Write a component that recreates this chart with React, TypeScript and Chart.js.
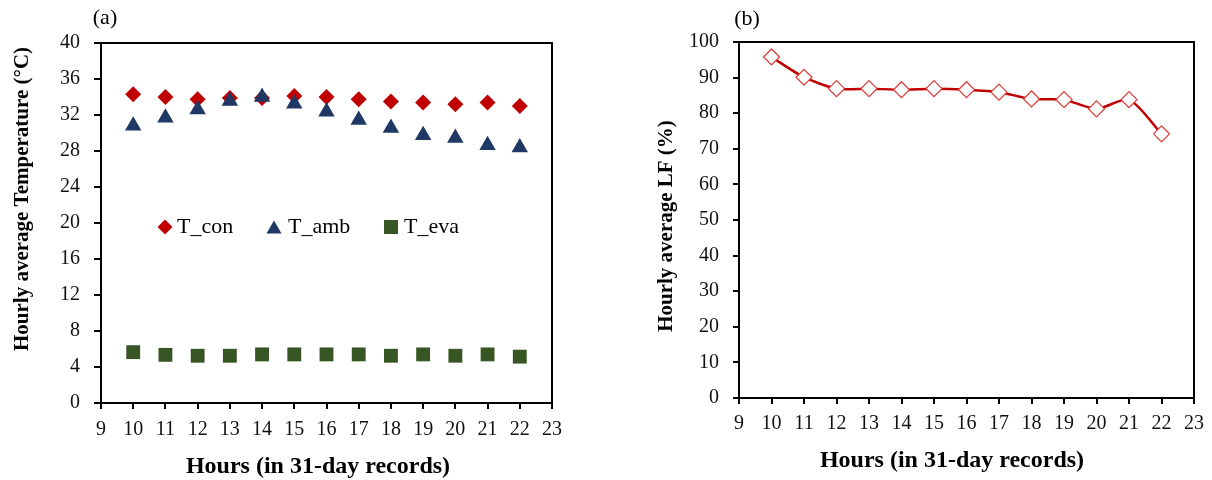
import React, { useEffect, useRef } from 'react';
import { Chart, registerables } from 'chart.js';
import { drawPoint } from 'chart.js/helpers';

Chart.register(...registerables);
Chart.defaults.font.family = "'Liberation Serif', 'Times New Roman', serif";

// ---- data ----
const hours = [10, 11, 12, 13, 14, 15, 16, 17, 18, 19, 20, 21, 22];
const tCon = [34.3, 34.0, 33.75, 33.9, 33.9, 34.1, 34.0, 33.75, 33.5, 33.4, 33.2, 33.4, 33.0];
const tAmb = [30.8, 31.7, 32.6, 33.55, 34.0, 33.25, 32.35, 31.45, 30.55, 29.75, 29.45, 28.65, 28.4];
const tEva = [5.65, 5.35, 5.25, 5.25, 5.4, 5.4, 5.4, 5.4, 5.25, 5.4, 5.25, 5.4, 5.15];
const lf = [95.8, 90.1, 86.9, 86.9, 86.6, 86.9, 86.6, 85.9, 84.0, 83.8, 81.2, 83.8, 74.2];

const xMin = 9;
const xMax = 23;
const tempMin = 0;
const tempMax = 40;
const tempStep = 4;
const lfMin = 0;
const lfMax = 100;
const lfStep = 10;

const seriesNames = ['T_con', 'T_amb', 'T_eva'];
const panelLabels = ['(a)', '(b)'];
const xTitle = 'Hours (in 31-day records)';
const yTitleA = 'Hourly average Temperature (\u00B0C)';
const yTitleB = 'Hourly average LF (%)';

const pts = (ys: number[]) => hours.map((h, i) => ({ x: h, y: ys[i] }));

type TextItem = { text: string; x: number; y: number; font: string; rotate?: boolean };

function textPlugin(items: TextItem[]) {
  return {
    id: 'texts',
    afterDraw(chart: any) {
      const ctx = chart.ctx;
      ctx.save();
      ctx.fillStyle = '#000';
      ctx.textAlign = 'center';
      ctx.textBaseline = 'middle';
      for (const it of items) {
        ctx.save();
        ctx.font = it.font;
        ctx.translate(it.x, it.y);
        if (it.rotate) ctx.rotate(-Math.PI / 2);
        ctx.fillText(it.text, 0, 0);
        ctx.restore();
      }
      ctx.restore();
    },
  };
}

const framePlugin = {
  id: 'frame',
  beforeDatasetsDraw(chart: any) {
    const { left, top, right, bottom } = chart.chartArea;
    const ctx = chart.ctx;
    ctx.save();
    ctx.strokeStyle = '#000';
    ctx.lineWidth = 2;
    ctx.strokeRect(left, top, right - left, bottom - top);
    ctx.restore();
  },
};

const legendMarkerX = [165, 274, 391];
const legendTextX = [177, 288, 404];
const legendY = 227;

const innerLegendPlugin = {
  id: 'innerLegend',
  afterDraw(chart: any) {
    const ctx = chart.ctx;
    ctx.save();
    const sizes: Record<string, number> = { rectRot: 7.5, triangle: 8.7, rect: 9.9 };
    chart.data.datasets.forEach((ds: any, i: number) => {
      const style = ds.pointStyle;
      const r = sizes[style] || 7;
      ctx.fillStyle = ds.backgroundColor;
      ctx.strokeStyle = ds.borderColor;
      const yOff = style === 'triangle' ? r / 4 : 0;
      drawPoint(ctx, { pointStyle: style, radius: r, rotation: 0, borderWidth: 0 } as any, legendMarkerX[i], legendY + yOff);
      ctx.fillStyle = '#000';
      ctx.font = "22px 'Liberation Serif', 'Times New Roman', serif";
      ctx.textAlign = 'left';
      ctx.textBaseline = 'middle';
      ctx.fillText(ds.label, legendTextX[i], legendY);
    });
    ctx.restore();
  },
};

const tickFont = { size: 20 };
const tickColor = '#111';

function axisGrid(len: number) {
  return { display: true, drawOnChartArea: false, drawTicks: true, tickLength: len, color: '#000', lineWidth: 2 };
}
const axisBorder = { display: true, color: '#000', width: 2 };

export default function App() {
  const refA = useRef<HTMLCanvasElement>(null);
  const refB = useRef<HTMLCanvasElement>(null);

  useEffect(() => {
    const a = new Chart(refA.current as HTMLCanvasElement, {
      type: 'scatter',
      data: {
        datasets: [
          {
            label: seriesNames[0],
            data: pts(tCon),
            pointStyle: 'rectRot',
            pointRadius: 8,
            backgroundColor: '#C00000',
            borderColor: '#C00000',
            borderWidth: 0,
            order: 1,
          },
          {
            label: seriesNames[1],
            data: pts(tAmb),
            pointStyle: 'triangle',
            pointRadius: 9.5,
            backgroundColor: '#1F3864',
            borderColor: '#1F3864',
            borderWidth: 0,
            order: 0,
          },
          {
            label: seriesNames[2],
            data: pts(tEva),
            pointStyle: 'rect',
            pointRadius: 9.8,
            backgroundColor: '#375623',
            borderColor: '#375623',
            borderWidth: 0,
            order: 2,
          },
        ],
      } as any,
      options: {
        animation: false,
        responsive: false,
        devicePixelRatio: 1,
        layout: { padding: { left: 0, top: 43, right: 48, bottom: 0 } },
        plugins: { legend: { display: false }, tooltip: { enabled: false } },
        scales: {
          x: {
            type: 'linear',
            min: xMin,
            max: xMax,
            ticks: { stepSize: 1, padding: 9, color: tickColor, font: tickFont, autoSkip: false, maxRotation: 0 },
            grid: axisGrid(6),
            border: axisBorder,
            afterFit: (s: any) => { s.height = 77; },
          },
          y: {
            min: tempMin,
            max: tempMax,
            ticks: { stepSize: tempStep, padding: 14, color: tickColor, font: tickFont },
            grid: axisGrid(7),
            border: axisBorder,
            afterFit: (s: any) => { s.width = 101; },
          },
        },
      } as any,
      plugins: [
        framePlugin,
        innerLegendPlugin,
        textPlugin([
          { text: panelLabels[0], x: 105, y: 18, font: "22px 'Liberation Serif', serif" },
          { text: yTitleA, x: 23, y: 199, font: "bold 21px 'Liberation Serif', serif", rotate: true },
          { text: xTitle, x: 318, y: 467, font: "bold 24px 'Liberation Serif', serif" },
        ]),
      ],
    });

    const b = new Chart(refB.current as HTMLCanvasElement, {
      type: 'line',
      data: {
        datasets: [
          {
            label: 'LF',
            data: pts(lf),
            borderColor: '#C00000',
            borderWidth: 2.5,
            tension: 0.25,
            pointStyle: 'rectRot',
            pointRadius: 8,
            pointBackgroundColor: '#FFFFFF',
            pointBorderColor: '#E03A3A',
            pointBorderWidth: 1.2,
            fill: false,
          },
        ],
      } as any,
      options: {
        animation: false,
        responsive: false,
        devicePixelRatio: 1,
        layout: { padding: { left: 0, top: 42, right: 15, bottom: 0 } },
        plugins: { legend: { display: false }, tooltip: { enabled: false } },
        scales: {
          x: {
            type: 'linear',
            min: xMin,
            max: xMax,
            ticks: { stepSize: 1, padding: 8, color: tickColor, font: tickFont, autoSkip: false, maxRotation: 0 },
            grid: axisGrid(6),
            border: axisBorder,
            afterFit: (s: any) => { s.height = 82; },
          },
          y: {
            min: lfMin,
            max: lfMax,
            ticks: { stepSize: lfStep, padding: 14, color: tickColor, font: tickFont },
            grid: axisGrid(6),
            border: axisBorder,
            afterFit: (s: any) => { s.width = 133; },
          },
        },
      } as any,
      plugins: [
        framePlugin,
        textPlugin([
          { text: panelLabels[1], x: 141, y: 19, font: "22px 'Liberation Serif', serif" },
          { text: yTitleB, x: 61, y: 226, font: "bold 21px 'Liberation Serif', serif", rotate: true },
          { text: xTitle, x: 346, y: 461, font: "bold 24px 'Liberation Serif', serif" },
        ]),
      ],
    });

    return () => {
      a.destroy();
      b.destroy();
    };
  }, []);

  return (
    <div style={{ position: 'absolute', left: 0, top: 0, width: 1212, height: 480, background: '#fff' }}>
      <canvas ref={refA} width={600} height={480} style={{ position: 'absolute', left: 0, top: 0, width: 600, height: 480 }} />
      <canvas ref={refB} width={606} height={480} style={{ position: 'absolute', left: 606, top: 0, width: 606, height: 480 }} />
    </div>
  );
}
